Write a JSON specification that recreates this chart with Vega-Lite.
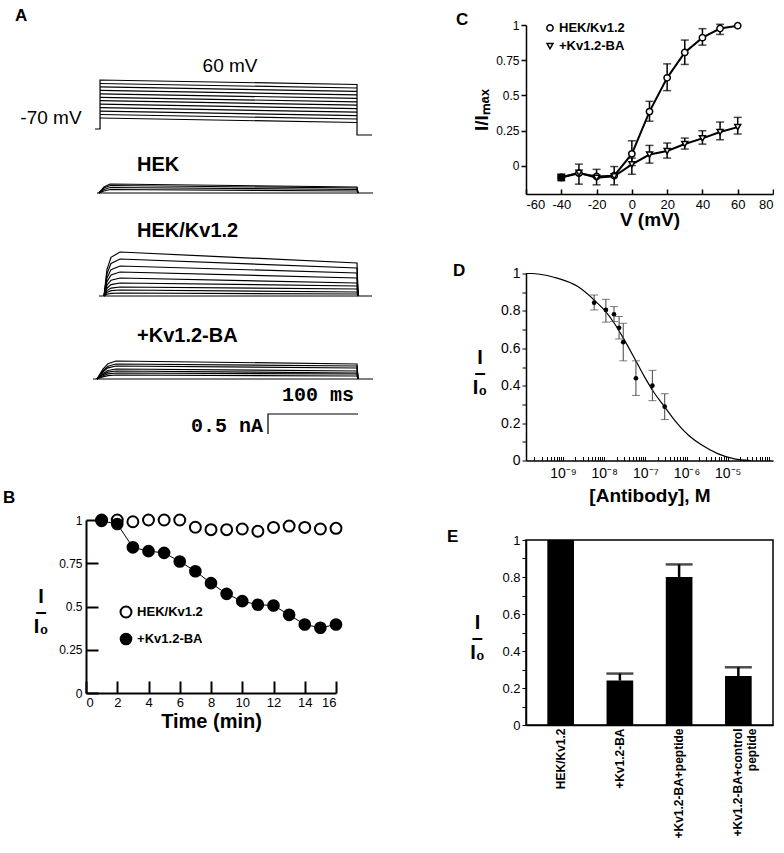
{
"$schema":"https://vega.github.io/schema/vega-lite/v6.json",
"background":"white",
"padding":{"left":3,"top":7,"right":0,"bottom":0},
"config":{
 "font":"Liberation Sans",
 "view":{"stroke":null},
 "axis":{"grid":false,"domainColor":"black","tickColor":"black","labelColor":"black","titleColor":"black","labelFont":"Liberation Sans","titleFont":"Liberation Sans","labelFontSize":12,"titleFontWeight":"bold","titleFontSize":19},
 "title":{"anchor":"start","fontSize":17,"fontWeight":"bold","font":"Liberation Sans","color":"black","frame":"group"}
},
"datasets":{
 "traces":[
  {"s":"pf","i":0,"t":10,"y":312},{"s":"pf","i":1,"t":15.6,"y":312},{"s":"pf","i":2,"t":15.6,"y":361},{"s":"pf","i":3,"t":301.1,"y":356.5},{"s":"pf","i":4,"t":301.1,"y":306},{"s":"pf","i":5,"t":317.8,"y":306},
  {"s":"p1","i":0,"t":15.6,"y":357.5},{"s":"p1","i":1,"t":301.1,"y":353},
  {"s":"p2","i":0,"t":15.6,"y":354.1},{"s":"p2","i":1,"t":301.1,"y":349.6},
  {"s":"p3","i":0,"t":15.6,"y":350.6},{"s":"p3","i":1,"t":301.1,"y":346.1},
  {"s":"p4","i":0,"t":15.6,"y":347.2},{"s":"p4","i":1,"t":301.1,"y":342.7},
  {"s":"p5","i":0,"t":15.6,"y":343.7},{"s":"p5","i":1,"t":301.1,"y":339.2},
  {"s":"p6","i":0,"t":15.6,"y":340.3},{"s":"p6","i":1,"t":301.1,"y":335.8},
  {"s":"p7","i":0,"t":15.6,"y":336.8},{"s":"p7","i":1,"t":301.1,"y":332.3},
  {"s":"p8","i":0,"t":15.6,"y":333.4},{"s":"p8","i":1,"t":301.1,"y":328.9},
  {"s":"p9","i":0,"t":15.6,"y":329.9},{"s":"p9","i":1,"t":301.1,"y":325.4},
  {"s":"p10","i":0,"t":15.6,"y":326.5},{"s":"p10","i":1,"t":301.1,"y":322},
  {"s":"p11","i":0,"t":15.6,"y":323},{"s":"p11","i":1,"t":301.1,"y":318.5},
  {"s":"hb","i":0,"t":12.2,"y":248},{"s":"hb","i":1,"t":318.9,"y":248},
  {"s":"h0","i":0,"t":14.4,"y":248},{"s":"h0","i":1,"t":20,"y":254},{"s":"h0","i":2,"t":26.7,"y":257},{"s":"h0","i":3,"t":301.1,"y":254},{"s":"h0","i":4,"t":302.2,"y":248},
  {"s":"h1","i":0,"t":14.4,"y":248},{"s":"h1","i":1,"t":20,"y":253},{"s":"h1","i":2,"t":26.7,"y":255.5},{"s":"h1","i":3,"t":301.1,"y":253},{"s":"h1","i":4,"t":302.2,"y":248},
  {"s":"h2","i":0,"t":14.4,"y":248},{"s":"h2","i":1,"t":20,"y":251.5},{"s":"h2","i":2,"t":26.7,"y":253.5},{"s":"h2","i":3,"t":301.1,"y":251.5},{"s":"h2","i":4,"t":302.2,"y":248},
  {"s":"h3","i":0,"t":14.4,"y":248},{"s":"h3","i":1,"t":20,"y":250},{"s":"h3","i":2,"t":26.7,"y":251.5},{"s":"h3","i":3,"t":301.1,"y":250},{"s":"h3","i":4,"t":302.2,"y":248},
  {"s":"kb","i":0,"t":14.4,"y":145},{"s":"kb","i":1,"t":317.8,"y":145},
  {"s":"k0","i":0,"t":20,"y":145},{"s":"k0","i":1,"t":23.3,"y":171.4},{"s":"k0","i":2,"t":27.8,"y":183.7},{"s":"k0","i":3,"t":37.8,"y":189},{"s":"k0","i":4,"t":301.1,"y":178},{"s":"k0","i":5,"t":302.2,"y":145},
  {"s":"k1","i":0,"t":20,"y":145},{"s":"k1","i":1,"t":23.3,"y":167.2},{"s":"k1","i":2,"t":27.8,"y":177.6},{"s":"k1","i":3,"t":37.8,"y":182},{"s":"k1","i":4,"t":301.1,"y":173},{"s":"k1","i":5,"t":302.2,"y":145},
  {"s":"k2","i":0,"t":20,"y":145},{"s":"k2","i":1,"t":23.3,"y":163},{"s":"k2","i":2,"t":27.8,"y":171.4},{"s":"k2","i":3,"t":37.8,"y":175},{"s":"k2","i":4,"t":301.1,"y":168},{"s":"k2","i":5,"t":302.2,"y":145},
  {"s":"k3","i":0,"t":20,"y":145},{"s":"k3","i":1,"t":23.3,"y":159.4},{"s":"k3","i":2,"t":27.8,"y":166.1},{"s":"k3","i":3,"t":37.8,"y":169},{"s":"k3","i":4,"t":301.1,"y":163},{"s":"k3","i":5,"t":302.2,"y":145},
  {"s":"k4","i":0,"t":20,"y":145},{"s":"k4","i":1,"t":23.3,"y":155.8},{"s":"k4","i":2,"t":27.8,"y":160.8},{"s":"k4","i":3,"t":37.8,"y":163},{"s":"k4","i":4,"t":301.1,"y":158},{"s":"k4","i":5,"t":302.2,"y":145},
  {"s":"k5","i":0,"t":20,"y":145},{"s":"k5","i":1,"t":23.3,"y":152.8},{"s":"k5","i":2,"t":27.8,"y":156.4},{"s":"k5","i":3,"t":37.8,"y":158},{"s":"k5","i":4,"t":301.1,"y":155},{"s":"k5","i":5,"t":302.2,"y":145},
  {"s":"k6","i":0,"t":20,"y":145},{"s":"k6","i":1,"t":23.3,"y":150.4},{"s":"k6","i":2,"t":27.8,"y":152.9},{"s":"k6","i":3,"t":37.8,"y":154},{"s":"k6","i":4,"t":301.1,"y":152},{"s":"k6","i":5,"t":302.2,"y":145},
  {"s":"k7","i":0,"t":20,"y":145},{"s":"k7","i":1,"t":23.3,"y":148.6},{"s":"k7","i":2,"t":27.8,"y":150.3},{"s":"k7","i":3,"t":37.8,"y":151},{"s":"k7","i":4,"t":301.1,"y":149},{"s":"k7","i":5,"t":302.2,"y":145},
  {"s":"k8","i":0,"t":20,"y":145},{"s":"k8","i":1,"t":23.3,"y":146.8},{"s":"k8","i":2,"t":27.8,"y":147.6},{"s":"k8","i":3,"t":37.8,"y":148},{"s":"k8","i":4,"t":301.1,"y":147},{"s":"k8","i":5,"t":302.2,"y":145},
  {"s":"bb","i":0,"t":7.8,"y":62},{"s":"bb","i":1,"t":318.9,"y":62},
  {"s":"b0","i":0,"t":12.2,"y":62},{"s":"b0","i":1,"t":18.9,"y":71.9},{"s":"b0","i":2,"t":24.4,"y":77.3},{"s":"b0","i":3,"t":33.3,"y":80},{"s":"b0","i":4,"t":301.1,"y":77},{"s":"b0","i":5,"t":302.2,"y":62},
  {"s":"b1","i":0,"t":12.2,"y":62},{"s":"b1","i":1,"t":18.9,"y":70.3},{"s":"b1","i":2,"t":24.4,"y":74.8},{"s":"b1","i":3,"t":33.3,"y":77},{"s":"b1","i":4,"t":301.1,"y":75},{"s":"b1","i":5,"t":302.2,"y":62},
  {"s":"b2","i":0,"t":12.2,"y":62},{"s":"b2","i":1,"t":18.9,"y":69.2},{"s":"b2","i":2,"t":24.4,"y":73.1},{"s":"b2","i":3,"t":33.3,"y":75},{"s":"b2","i":4,"t":301.1,"y":73},{"s":"b2","i":5,"t":302.2,"y":62},
  {"s":"b3","i":0,"t":12.2,"y":62},{"s":"b3","i":1,"t":18.9,"y":67.5},{"s":"b3","i":2,"t":24.4,"y":70.5},{"s":"b3","i":3,"t":33.3,"y":72},{"s":"b3","i":4,"t":301.1,"y":70},{"s":"b3","i":5,"t":302.2,"y":62},
  {"s":"b4","i":0,"t":12.2,"y":62},{"s":"b4","i":1,"t":18.9,"y":66.4},{"s":"b4","i":2,"t":24.4,"y":68.8},{"s":"b4","i":3,"t":33.3,"y":70},{"s":"b4","i":4,"t":301.1,"y":68},{"s":"b4","i":5,"t":302.2,"y":62},
  {"s":"b5","i":0,"t":12.2,"y":62},{"s":"b5","i":1,"t":18.9,"y":65.3},{"s":"b5","i":2,"t":24.4,"y":67.1},{"s":"b5","i":3,"t":33.3,"y":68},{"s":"b5","i":4,"t":301.1,"y":67},{"s":"b5","i":5,"t":302.2,"y":62},
  {"s":"b6","i":0,"t":12.2,"y":62},{"s":"b6","i":1,"t":18.9,"y":64.2},{"s":"b6","i":2,"t":24.4,"y":65.4},{"s":"b6","i":3,"t":33.3,"y":66},{"s":"b6","i":4,"t":301.1,"y":65},{"s":"b6","i":5,"t":302.2,"y":62},
  {"s":"sb","i":0,"t":302.2,"y":27},{"s":"sb","i":1,"t":202.2,"y":27},{"s":"sb","i":2,"t":202.2,"y":7}
 ],
 "bOpen":[{"t":1,"v":1.0},{"t":2,"v":1.0},{"t":3,"v":0.99},{"t":4,"v":1.0},{"t":5,"v":1.0},{"t":6,"v":1.0},{"t":7,"v":0.958},{"t":8,"v":0.944},{"t":9,"v":0.944},{"t":10,"v":0.948},{"t":11,"v":0.935},{"t":12,"v":0.957},{"t":13,"v":0.965},{"t":14,"v":0.957},{"t":15,"v":0.948},{"t":16,"v":0.952}],
 "bFilled":[{"t":1,"v":0.995},{"t":2,"v":0.977},{"t":3,"v":0.842},{"t":4,"v":0.82},{"t":5,"v":0.81},{"t":6,"v":0.76},{"t":7,"v":0.704},{"t":8,"v":0.635},{"t":9,"v":0.573},{"t":10,"v":0.531},{"t":11,"v":0.51},{"t":12,"v":0.506},{"t":13,"v":0.452},{"t":14,"v":0.396},{"t":15,"v":0.377},{"t":16,"v":0.396}],
 "cOpen":[{"V":-40,"y":-0.083},{"V":-30,"y":-0.052},{"V":-20,"y":-0.075},{"V":-10,"y":-0.07},{"V":0,"y":0.085},{"V":10,"y":0.385},{"V":20,"y":0.625},{"V":30,"y":0.805},{"V":40,"y":0.91},{"V":50,"y":0.975},{"V":60,"y":0.995}],
 "cTri":[{"V":-40,"y":-0.08},{"V":-30,"y":-0.05},{"V":-20,"y":-0.085},{"V":-10,"y":-0.075},{"V":0,"y":0.01},{"V":10,"y":0.08},{"V":20,"y":0.105},{"V":30,"y":0.155},{"V":40,"y":0.195},{"V":50,"y":0.24},{"V":60,"y":0.275}],
 "cErr":[{"V":-30,"lo":-0.13,"hi":0.012},{"V":-20,"lo":-0.135,"hi":-0.025},{"V":-10,"lo":-0.135,"hi":-0.005},{"V":0,"lo":0.002,"hi":0.178},{"V":0,"lo":-0.06,"hi":0.055},{"V":10,"lo":0.317,"hi":0.458},{"V":10,"lo":0.019,"hi":0.145},{"V":20,"lo":0.534,"hi":0.724},{"V":20,"lo":0.055,"hi":0.162},{"V":30,"lo":0.72,"hi":0.893},{"V":30,"lo":0.119,"hi":0.197},{"V":40,"lo":0.857,"hi":0.974},{"V":40,"lo":0.154,"hi":0.249},{"V":50,"lo":0.933,"hi":1.005},{"V":50,"lo":0.185,"hi":0.311},{"V":60,"lo":0.226,"hi":0.344}],
 "dPts":[{"c":5.7e-9,"v":0.844,"lo":0.805,"hi":0.885},{"c":1.1e-8,"v":0.805,"lo":0.74,"hi":0.862},{"c":1.73e-8,"v":0.782,"lo":0.743,"hi":0.823},{"c":2.3e-8,"v":0.71,"lo":0.65,"hi":0.77},{"c":2.9e-8,"v":0.633,"lo":0.533,"hi":0.734},{"c":5.9e-8,"v":0.44,"lo":0.348,"hi":0.533},{"c":1.48e-7,"v":0.4,"lo":0.32,"hi":0.482},{"c":2.95e-7,"v":0.288,"lo":0.219,"hi":0.357}],
 "dCurve":[{"c":1.26e-10,"v":1.0},{"c":1.66e-10,"v":1.0},{"c":6.0e-10,"v":0.98},{"c":2.29e-9,"v":0.93},{"c":5.6e-9,"v":0.86},{"c":1.0e-8,"v":0.805},{"c":1.76e-8,"v":0.734},{"c":3.08e-8,"v":0.645},{"c":5.4e-8,"v":0.548},{"c":9.4e-8,"v":0.45},{"c":1.65e-7,"v":0.361},{"c":2.88e-7,"v":0.29},{"c":5.0e-7,"v":0.219},{"c":1.07e-6,"v":0.139},{"c":2.25e-6,"v":0.085},{"c":5.7e-6,"v":0.037},{"c":1.45e-5,"v":0.009},{"c":3.7e-5,"v":0.0}],
 "eBars":[{"g":"HEK/Kv1.2","v":1.0},{"g":"+Kv1.2-BA","v":0.24},{"g":"+Kv1.2-BA+peptide","v":0.8},{"g":"+Kv1.2-BA+control peptide","v":0.265}],
 "eErr":[{"g":"+Kv1.2-BA","v":0.24,"up":0.278},{"g":"+Kv1.2-BA+peptide","v":0.8,"up":0.868},{"g":"+Kv1.2-BA+control peptide","v":0.265,"up":0.312}]
},
"spacing":68,
"hconcat":[
 {"spacing":79,"bounds":"flush","vconcat":[
  {"width":292,"height":416,
   "title":{"text":"A","dx":-71,"dy":4},
   "layer":[
    {"data":{"name":"traces"},"mark":{"type":"line","color":"black","strokeWidth":1.2},
     "encoding":{
      "x":{"field":"t","type":"quantitative","scale":{"domain":[0,324.4],"nice":false,"zero":false},"axis":null},
      "y":{"field":"y","type":"quantitative","scale":{"domain":[0,416],"nice":false,"zero":false},"axis":null},
      "detail":{"field":"s","type":"nominal"},
      "order":{"field":"i","type":"quantitative"}}},
    {"data":{"values":[{"label":"60 mV","t":160,"y":375},{"label":"-70 mV","t":-38.9,"y":323}]},
     "mark":{"type":"text","fontSize":19,"align":"center","baseline":"middle","color":"black"},
     "encoding":{"x":{"field":"t","type":"quantitative","scale":{"domain":[0,324.4],"nice":false,"zero":false}},"y":{"field":"y","type":"quantitative","scale":{"domain":[0,416],"nice":false,"zero":false}},"text":{"field":"label"}}},
    {"data":{"values":[{"label":"HEK","t":56.7,"y":276},{"label":"HEK/Kv1.2","t":56.7,"y":210},{"label":"+Kv1.2-BA","t":56.7,"y":105}]},
     "mark":{"type":"text","fontSize":20,"fontWeight":"bold","align":"left","baseline":"middle","color":"black"},
     "encoding":{"x":{"field":"t","type":"quantitative","scale":{"domain":[0,324.4],"nice":false,"zero":false}},"y":{"field":"y","type":"quantitative","scale":{"domain":[0,416],"nice":false,"zero":false}},"text":{"field":"label"}}},
    {"data":{"values":[{"label":"100 ms","t":257.8,"y":46}]},
     "mark":{"type":"text","font":"Liberation Mono","fontSize":20,"fontWeight":"bold","align":"center","baseline":"middle","color":"black"},
     "encoding":{"x":{"field":"t","type":"quantitative","scale":{"domain":[0,324.4],"nice":false,"zero":false}},"y":{"field":"y","type":"quantitative","scale":{"domain":[0,416],"nice":false,"zero":false}},"text":{"field":"label"}}},
    {"data":{"values":[{"label":"0.5 nA","t":196.7,"y":15}]},
     "mark":{"type":"text","font":"Liberation Mono","fontSize":20,"fontWeight":"bold","align":"right","baseline":"middle","color":"black"},
     "encoding":{"x":{"field":"t","type":"quantitative","scale":{"domain":[0,324.4],"nice":false,"zero":false}},"y":{"field":"y","type":"quantitative","scale":{"domain":[0,416],"nice":false,"zero":false}},"text":{"field":"label"}}}
   ]},
  {"width":250,"height":173,
   "title":{"text":"B","dx":-83},
   "encoding":{
    "x":{"field":"t","type":"quantitative","scale":{"domain":[0,16],"nice":false,"zero":false},"axis":{"values":[0,2,4,6,8,10,12,14,16],"labelExpr":"'' + datum.value","tickSize":-12,"tickWidth":2,"domainWidth":2,"labelPadding":15,"labelFontSize":13,"title":"Time (min)","titleFontSize":20,"titlePadding":2}},
    "y":{"field":"v","type":"quantitative","scale":{"domain":[0,1],"nice":false,"zero":false},"axis":{"values":[0,0.25,0.5,0.75,1],"labelExpr":"'' + datum.value","tickSize":-12,"tickWidth":2,"domainWidth":2,"labelPadding":16,"labelFontSize":12,"title":["I","–","I₀"],"titleAngle":0,"titleFontSize":20,"titleLineHeight":15,"titlePadding":-12}}
   },
   "layer":[
    {"data":{"name":"bFilled"},"mark":{"type":"line","color":"black","strokeWidth":1}},
    {"data":{"name":"bOpen"},"mark":{"type":"point","shape":"circle","filled":true,"fill":"white","stroke":"black","strokeWidth":2,"size":120,"opacity":1}},
    {"data":{"name":"bFilled"},"mark":{"type":"point","shape":"circle","filled":true,"color":"black","size":160,"opacity":1}},
    {"data":{"values":[{"t":2.56,"v":0.468}]},"mark":{"type":"point","shape":"circle","filled":true,"fill":"white","stroke":"black","strokeWidth":2,"size":120,"opacity":1}},
    {"data":{"values":[{"t":2.56,"v":0.312}]},"mark":{"type":"point","shape":"circle","filled":true,"color":"black","size":160,"opacity":1}},
    {"data":{"values":[{"t":3.27,"v":0.468,"label":"HEK/Kv1.2"},{"t":3.27,"v":0.312,"label":"+Kv1.2-BA"}]},"mark":{"type":"text","fontSize":13,"fontWeight":"bold","align":"left","baseline":"middle","color":"black"},"encoding":{"text":{"field":"label"}}}
   ]}
 ]},
 {"spacing":79.5,"bounds":"flush","vconcat":[
  {"width":247,"height":169,
   "title":{"text":"C","dx":-70,"dy":14},
   "encoding":{
    "x":{"field":"V","type":"quantitative","scale":{"domain":[-60,80],"nice":false,"zero":false},"axis":{"values":[-60,-40,-20,0,20,40,60,80],"labelExpr":"'' + datum.value","tickSize":-5,"tickWidth":1.5,"domainWidth":1.5,"labelPadding":9,"labelFontSize":13,"title":"V (mV)","titleFontSize":19,"titlePadding":-1}},
    "y":{"field":"y","type":"quantitative","scale":{"domain":[-0.2,1],"nice":false,"zero":false},"axis":{"values":[0,0.25,0.5,0.75,1],"labelExpr":"'' + datum.value","tickSize":5,"tickWidth":1.5,"domainWidth":1.5,"labelFontSize":12,"title":"I/Iₘₐₓ","titleFontSize":19}}
   },
   "layer":[
    {"data":{"name":"cOpen"},"mark":{"type":"line","color":"black","strokeWidth":2}},
    {"data":{"name":"cTri"},"mark":{"type":"line","color":"black","strokeWidth":2}},
    {"data":{"name":"cErr"},"mark":{"type":"rule","color":"black","strokeWidth":1.5},"encoding":{"y":{"field":"lo","type":"quantitative"},"y2":{"field":"hi"}}},
    {"data":{"name":"cErr"},"mark":{"type":"tick","orient":"horizontal","color":"black","size":8,"thickness":1.5},"encoding":{"y":{"field":"lo","type":"quantitative"}}},
    {"data":{"name":"cErr"},"mark":{"type":"tick","orient":"horizontal","color":"black","size":8,"thickness":1.5},"encoding":{"y":{"field":"hi","type":"quantitative"}}},
    {"data":{"name":"cOpen"},"mark":{"type":"point","shape":"circle","filled":true,"fill":"white","stroke":"black","strokeWidth":1.5,"size":40,"opacity":1}},
    {"data":{"name":"cTri"},"mark":{"type":"point","shape":"triangle-down","filled":true,"fill":"white","stroke":"black","strokeWidth":1.5,"size":35,"opacity":1}},
    {"data":{"values":[{"V":-40,"y":-0.083}]},"mark":{"type":"point","shape":"square","filled":true,"color":"black","size":60,"opacity":1}},
    {"data":{"values":[{"V":-46.4,"y":0.979}]},"mark":{"type":"point","shape":"circle","filled":true,"fill":"white","stroke":"black","strokeWidth":1.5,"size":40,"opacity":1}},
    {"data":{"values":[{"V":-46.4,"y":0.85}]},"mark":{"type":"point","shape":"triangle-down","filled":true,"fill":"white","stroke":"black","strokeWidth":1.5,"size":35,"opacity":1}},
    {"data":{"values":[{"V":-41.3,"y":0.979,"label":"HEK/Kv1.2"},{"V":-41.3,"y":0.85,"label":"+Kv1.2-BA"}]},"mark":{"type":"text","fontSize":13,"fontWeight":"bold","align":"left","baseline":"middle","color":"black"},"encoding":{"text":{"field":"label"}}}
   ]},
  {"width":247,"height":187,
   "title":{"text":"D","dx":-73,"dy":17},
   "encoding":{
    "x":{"field":"c","type":"quantitative","scale":{"type":"log","domain":[1.26e-10,1.26e-4],"nice":false},"axis":{"values":[2e-10,3e-10,4e-10,5e-10,6e-10,7e-10,8e-10,9e-10,1e-9,2e-9,3e-9,4e-9,5e-9,6e-9,7e-9,8e-9,9e-9,1e-8,2e-8,3e-8,4e-8,5e-8,6e-8,7e-8,8e-8,9e-8,1e-7,2e-7,3e-7,4e-7,5e-7,6e-7,7e-7,8e-7,9e-7,1e-6,2e-6,3e-6,4e-6,5e-6,6e-6,7e-6,8e-6,9e-6,1e-5,2e-5,3e-5,4e-5,5e-5,6e-5,7e-5,8e-5,9e-5,1e-4],
      "labelExpr":"datum.value == 1e-9 ? '10⁻⁹' : datum.value == 1e-8 ? '10⁻⁸' : datum.value == 1e-7 ? '10⁻⁷' : datum.value == 1e-6 ? '10⁻⁶' : datum.value == 1e-5 ? '10⁻⁵' : ''",
      "tickSize":-4,"tickWidth":1,"domainWidth":1.5,"labelPadding":10,"labelFontSize":14,"labelOverlap":false,"title":"[Antibody], M","titleFontSize":19,"titlePadding":6}},
    "y":{"field":"v","type":"quantitative","scale":{"domain":[0,1],"nice":false,"zero":false},"axis":{"values":[0,0.1,0.2,0.3,0.4,0.5,0.6,0.7,0.8,0.9,1],"labelExpr":"round(datum.value*10) % 2 == 0 ? '' + datum.value : ''","tickSize":4,"tickWidth":1,"domainWidth":1.5,"labelFontSize":14,"labelOverlap":false,"title":["I","–","I₀"],"titleAngle":0,"titleFontSize":20,"titleLineHeight":15,"titlePadding":-9}}
   },
   "layer":[
    {"data":{"name":"dCurve"},"mark":{"type":"line","color":"black","strokeWidth":1.2,"interpolate":"monotone"}},
    {"data":{"name":"dPts"},"mark":{"type":"rule","color":"#444","strokeWidth":1},"encoding":{"y":{"field":"lo","type":"quantitative"},"y2":{"field":"hi"}}},
    {"data":{"name":"dPts"},"mark":{"type":"tick","orient":"horizontal","color":"#444","size":8,"thickness":1},"encoding":{"y":{"field":"lo","type":"quantitative"}}},
    {"data":{"name":"dPts"},"mark":{"type":"tick","orient":"horizontal","color":"#444","size":8,"thickness":1},"encoding":{"y":{"field":"hi","type":"quantitative"}}},
    {"data":{"name":"dPts"},"mark":{"type":"point","shape":"circle","filled":true,"color":"black","size":22,"opacity":1}}
   ]},
  {"width":247,"height":185,
   "title":{"text":"E","dx":-79,"dy":16},
   "view":{"stroke":"black","strokeWidth":1.5},
   "encoding":{
    "x":{"field":"g","type":"nominal","sort":null,"scale":{"domain":["HEK/Kv1.2","+Kv1.2-BA","+Kv1.2-BA+peptide","+Kv1.2-BA+control peptide"],"paddingInner":0.55,"paddingOuter":0.36},"axis":{"labelAngle":-90,"labelFontWeight":"bold","labelFontSize":12,"ticks":false,"domainWidth":1.5,"labelPadding":3,"title":null,"labelExpr":"datum.value == '+Kv1.2-BA+control peptide' ? ['+Kv1.2-BA+control', 'peptide'] : datum.label"}},
    "y":{"field":"v","type":"quantitative","scale":{"domain":[0,1],"nice":false,"zero":false},"axis":{"values":[0,0.1,0.2,0.3,0.4,0.5,0.6,0.7,0.8,0.9,1],"labelExpr":"round(datum.value*10) % 2 == 0 ? '' + datum.value : ''","tickSize":4,"tickWidth":1,"domainWidth":1.5,"labelFontSize":13,"labelOverlap":false,"title":["I","–","I₀"],"titleAngle":0,"titleFontSize":20,"titleLineHeight":15,"titlePadding":-5}}
   },
   "layer":[
    {"data":{"name":"eBars"},"mark":{"type":"bar","color":"black"}},
    {"data":{"name":"eErr"},"mark":{"type":"rule","color":"black","strokeWidth":2.5},"encoding":{"y2":{"field":"up"}}},
    {"data":{"name":"eErr"},"mark":{"type":"tick","orient":"horizontal","color":"black","size":27,"thickness":2.5},"encoding":{"y":{"field":"up","type":"quantitative"}}}
   ]}
 ]}
]
}
